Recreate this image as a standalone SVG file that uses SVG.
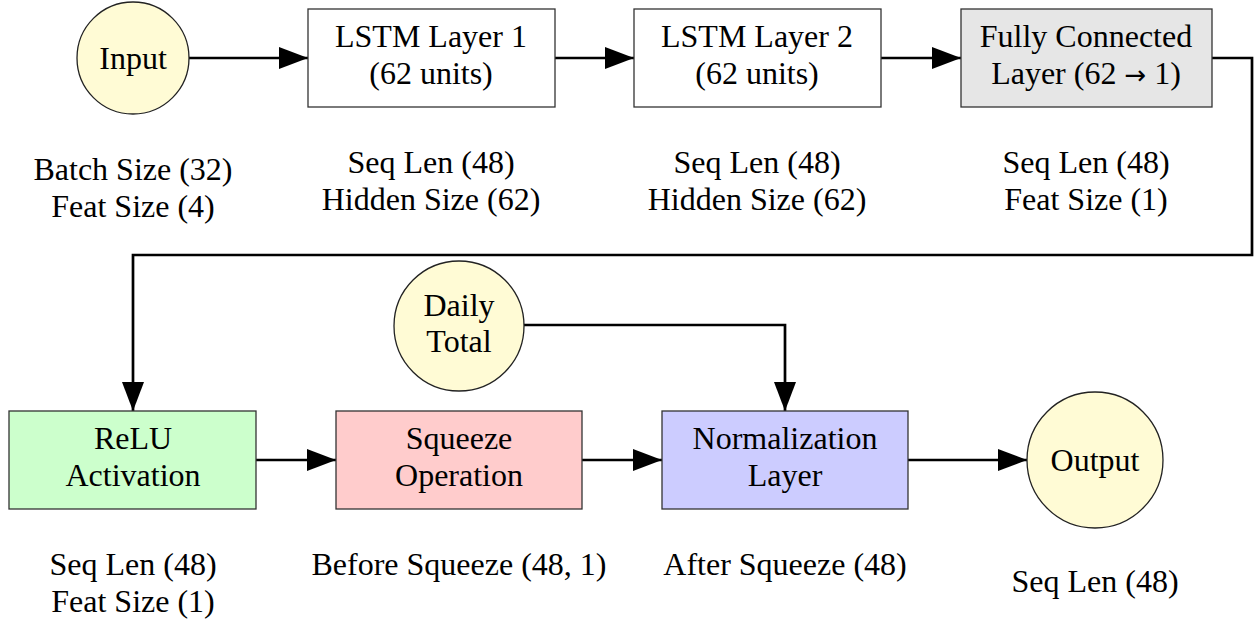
<svg xmlns="http://www.w3.org/2000/svg" width="1260" height="624" viewBox="0 0 1260 624">
<style>
text{font-family:"Liberation Serif","Times New Roman",serif;font-size:32px;fill:#000;text-anchor:middle}
.arr{font-family:"DejaVu Sans",sans-serif;font-size:26px}
.box{stroke:#333;stroke-width:1.3}
.circ{fill:#fffbd5;stroke:#222;stroke-width:1.3}
.conn{fill:none;stroke:#000;stroke-width:2.7;marker-end:url(#ah)}
</style>
<defs>
<marker id="ah" markerUnits="userSpaceOnUse" markerWidth="32" markerHeight="24" refX="29" refY="11" orient="auto">
<path d="M0,0 L29,11 L0,22 Z" fill="#000"/>
</marker>
</defs>
<rect width="1260" height="624" fill="#fff"/>
<g id="connectors">
<path class="conn" d="M189,58 H308"/>
<path class="conn" d="M555,58 H634"/>
<path class="conn" d="M881,58 H961"/>
<path class="conn" d="M1212,58 H1252 V255 H133 V411"/>
<path class="conn" d="M256,460 H336"/>
<path class="conn" d="M582,460 H662"/>
<path class="conn" d="M524,325 H785 V411"/>
<path class="conn" d="M908,460 H1027"/>
</g>
<g id="input">
<circle class="circ" cx="133" cy="58" r="56"/>
<text x="133" y="69">Input</text>
<text x="133" y="180">Batch Size (32)</text>
<text x="133" y="217">Feat Size (4)</text>
</g>
<g id="lstm1">
<rect class="box" x="308" y="9" width="247" height="98" fill="#fff"/>
<text x="431" y="47">LSTM Layer 1</text>
<text x="431" y="84">(62 units)</text>
<text x="431" y="173">Seq Len (48)</text>
<text x="431" y="210">Hidden Size (62)</text>
</g>
<g id="lstm2">
<rect class="box" x="634" y="9" width="247" height="98" fill="#fff"/>
<text x="757" y="47">LSTM Layer 2</text>
<text x="757" y="84">(62 units)</text>
<text x="757" y="173">Seq Len (48)</text>
<text x="757" y="210">Hidden Size (62)</text>
</g>
<g id="fc">
<rect class="box" x="961" y="9" width="251" height="98" fill="#e6e6e6"/>
<text x="1086" y="47">Fully Connected</text>
<text x="1086" y="84">Layer (62 <tspan class="arr">→</tspan> 1)</text>
<text x="1086" y="173">Seq Len (48)</text>
<text x="1086" y="210">Feat Size (1)</text>
</g>
<g id="daily">
<circle class="circ" cx="459" cy="326" r="65"/>
<text x="459" y="316">Daily</text>
<text x="459" y="352">Total</text>
</g>
<g id="relu">
<rect class="box" x="9" y="411" width="247" height="98" fill="#ccffcc"/>
<text x="133" y="449">ReLU</text>
<text x="133" y="486">Activation</text>
<text x="133" y="575">Seq Len (48)</text>
<text x="133" y="612">Feat Size (1)</text>
</g>
<g id="squeeze">
<rect class="box" x="336" y="411" width="246" height="98" fill="#ffcccc"/>
<text x="459" y="449">Squeeze</text>
<text x="459" y="486">Operation</text>
<text x="459" y="575">Before Squeeze (48, 1)</text>
</g>
<g id="norm">
<rect class="box" x="662" y="411" width="246" height="98" fill="#ccccff"/>
<text x="785" y="449">Normalization</text>
<text x="785" y="486">Layer</text>
<text x="785" y="575">After Squeeze (48)</text>
</g>
<g id="output">
<circle class="circ" cx="1095" cy="460" r="68"/>
<text x="1095" y="471">Output</text>
<text x="1095" y="592">Seq Len (48)</text>
</g>
</svg>
